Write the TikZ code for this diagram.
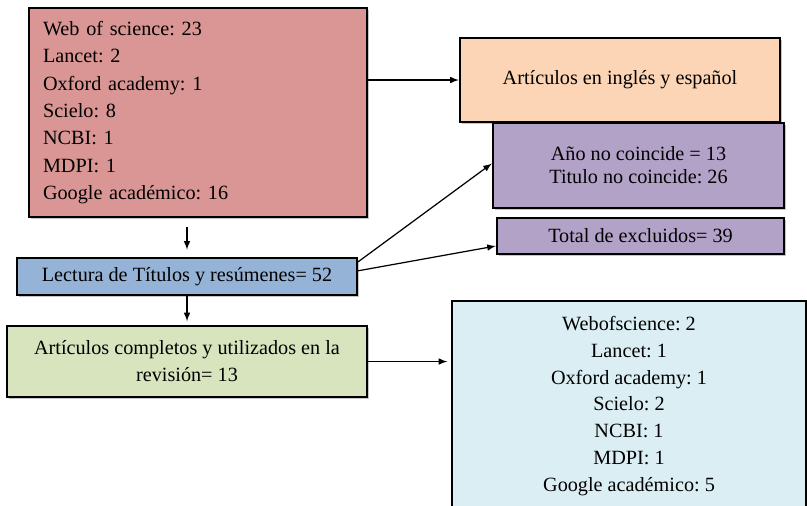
\documentclass[tikz,border=0pt]{standalone}
\usepackage{fontspec}
\setmainfont{Liberation Serif}
\usepackage{tikz}
\usetikzlibrary{calc,shadows}
\tikzset{>=latex}
\frenchspacing
\definecolor{pinkbox}{HTML}{D99694}
\definecolor{peachbox}{HTML}{FBD5B5}
\definecolor{lilacbox}{HTML}{B3A2C7}
\definecolor{bluebox}{HTML}{95B3D7}
\definecolor{greenbox}{HTML}{D7E4BD}
\definecolor{skybox}{HTML}{DBEEF4}
\tikzset{
  box/.style={draw=black, line width=1.4pt, rectangle, inner sep=0pt,
    font=\fontsize{11.5}{15.6}\selectfont,
    drop shadow={shadow xshift=1.2pt, shadow yshift=-1.2pt, fill=black!45, opacity=.5}},
  link/.style={->, line width=0.7pt}
}

\begin{document}
\begin{tikzpicture}[x=0.02cm, y=-0.02cm]
    \useasboundingbox (0, 0) rectangle (807, 505);
    \clip (0, 0) rectangle (807, 505);
    \node[box, fill=pinkbox, minimum width=6.76cm, minimum height=4.18cm,
      text width=6.2cm, align=left] (src) at (198, 112.5)
      {Web of science: 23\\ Lancet: 2\\ Oxford academy: 1\\ Scielo: 8\\
       NCBI: 1\\ MDPI: 1\\ Google académico: 16};
    \node[box, fill=peachbox, minimum width=6.4cm, minimum height=1.68cm] (lang)
      at (620, 80) {Artículos en inglés y español};
    \node[box, fill=lilacbox, minimum width=5.82cm, minimum height=1.7cm,
      align=center, font=\fontsize{11.5}{13.2}\selectfont] (nomatch) at (638.5, 165.5)
      {Año no coincide = 13\\ Titulo no coincide: 26};
    \node[box, fill=lilacbox, minimum width=5.74cm, minimum height=0.72cm] (excl)
      at (640.5, 236) {Total de excluidos= 39};
    \node[box, fill=bluebox, minimum width=6.8cm, minimum height=0.74cm] (read)
      at (187, 276.5) {Lectura de Títulos y resúmenes= 52};
    \node[box, fill=greenbox, minimum width=7.2cm, minimum height=1.42cm,
      align=center, font=\fontsize{11.5}{15.4}\selectfont] (full) at (187, 361.5)
      {Artículos completos y utilizados en la\\ revisión= 13};
    \node[box, fill=skybox, minimum width=7.08cm, minimum height=4.2cm,
      align=center, font=\fontsize{11.5}{15.3}\selectfont] (final) at (629, 406)
      {Webofscience: 2\\ Lancet: 1\\ Oxford academy: 1\\ Scielo: 2\\
       NCBI: 1\\ MDPI: 1\\ Google académico: 5};
    \draw[link] (src.east |- lang.west) -- (lang.west);
    \draw[link, shorten <=5pt, shorten >=4pt] (src.south -| read.north) -- (read.north);
    \draw[link, shorten >=2pt] (read.south) -- (full.north);
    \draw[link, shorten >=2pt] (full.east) -- (full.east -| final.west);
    \draw[link] ($(read.north east)+(0, 5)$) -- ($(nomatch.west)+(0, -2)$);
    \draw[link] ($(read.north east)+(0, 14)$) -- ($(excl.west)+(0, 10)$);
\end{tikzpicture}
\end{document}
